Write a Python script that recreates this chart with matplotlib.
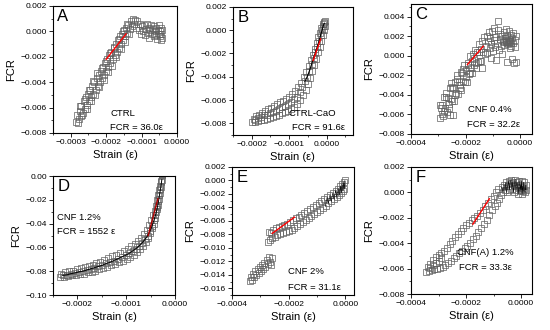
import numpy as np
import matplotlib
matplotlib.use("Agg")
import matplotlib.pyplot as plt
from matplotlib.ticker import MultipleLocator, AutoMinorLocator, FuncFormatter

plt.rcParams['font.family'] = ['Liberation Sans', 'DejaVu Sans']

# strain in units of 1e-4, FCR in units of 1e-3 (panel D: 1e-2)
A_x = [-2.85, -2.82, -2.78, -2.75, -2.72, -2.70, -2.66, -2.63, -2.60, -2.57,
       -2.54, -2.51, -2.48, -2.45, -2.42, -2.39, -2.36, -2.33, -2.30, -2.27,
       -2.24, -2.21, -2.18, -2.15, -2.12, -2.09, -2.06, -2.03, -2.00, -1.97,
       -1.94, -1.91, -1.88, -1.85, -1.82, -1.79, -1.76, -1.73, -1.70, -1.67,
       -1.64, -1.61, -1.58, -1.55, -1.52, -1.49, -1.46, -1.43, -1.40, -1.37,
       -1.34, -1.31, -1.28, -1.25,
       -2.80, -2.74, -2.68, -2.61, -2.55, -2.49, -2.43, -2.37, -2.31, -2.25,
       -2.19, -2.13, -2.07, -2.01, -1.95, -1.89, -1.83, -1.77, -1.71, -1.65,
       -1.59, -1.53, -1.47, -1.41, -1.35,
       -1.22, -1.18, -1.15, -1.12, -1.08, -1.05, -1.02, -0.98, -0.95, -0.92,
       -0.90, -0.87, -0.85, -0.82, -0.80, -0.78, -0.75, -0.73, -0.70, -0.68,
       -0.66, -0.64, -0.62, -0.60, -0.58, -0.56, -0.54, -0.52, -0.50, -0.48,
       -0.47, -0.46, -0.45, -0.44, -0.43, -0.42]
A_y = [-7.1, -6.6, -6.9, -6.3, -6.7, -5.9, -6.4, -5.5, -6.1, -5.2,
       -5.8, -4.9, -5.5, -4.6, -5.2, -4.3, -4.9, -4.0, -4.6, -3.7,
       -4.3, -3.4, -4.0, -3.1, -3.7, -2.8, -3.4, -2.5, -3.1, -2.2,
       -2.8, -1.9, -2.5, -1.6, -2.2, -1.3, -1.9, -1.0, -1.6, -0.7,
       -1.3, -0.4, -1.0, -0.2, -0.7, 0.1, -0.4, 0.3, -0.1, 0.5,
       0.2, 0.8, 0.4, 1.0,
       -7.2, -5.9, -6.6, -5.3, -6.1, -4.6, -5.5, -3.9, -5.0, -3.3,
       -4.4, -2.9, -3.8, -2.3, -3.2, -1.7, -2.7, -1.2, -2.0, -0.6,
       -1.4, 0.0, -0.8, 0.6, -0.2,
       0.6, 0.9, 0.3, 0.8, 0.1, 0.6, -0.2, 0.4, 0.0, 0.5,
       -0.3, 0.2, 0.6, -0.1, 0.3, -0.5, 0.1, 0.5, -0.2, 0.2,
       -0.4, 0.4, 0.0, -0.3, 0.3, -0.6, 0.1, -0.2, 0.5, -0.4,
       0.0, -0.7, 0.3, -0.2, -0.5, 0.1]
A_fit_x = [-2.0, -1.44]
A_fit_y = [-2.2, -0.2]

B_x = [-1.95, -1.88, -1.80, -1.72, -1.64, -1.56, -1.48, -1.40, -1.32, -1.24,
       -1.16, -1.08, -1.00, -0.92, -0.84, -0.76, -0.68, -0.60, -0.54, -0.48,
       -0.42, -0.37, -0.32, -0.27, -0.22, -0.18, -0.14, -0.10, -0.07, -0.04,
       -1.98, -1.90, -1.82, -1.74, -1.66, -1.58, -1.50, -1.42, -1.34, -1.26,
       -1.18, -1.10, -1.02, -0.94, -0.86, -0.78, -0.70, -0.63, -0.56, -0.50,
       -0.44, -0.38, -0.33, -0.28, -0.23, -0.19, -0.15, -0.11, -0.08, -0.05]
B_y = [-7.6, -7.4, -7.25, -7.1, -6.95, -6.8, -6.65, -6.5, -6.35, -6.2,
       -6.05, -5.9, -5.7, -5.5, -5.25, -4.9, -4.5, -4.0, -3.6, -3.1,
       -2.6, -2.1, -1.6, -1.1, -0.6, -0.2, 0.2, 0.5, 0.7, 0.8,
       -7.9, -7.85, -7.8, -7.75, -7.7, -7.62, -7.55, -7.45, -7.35, -7.25,
       -7.15, -7.05, -6.95, -6.8, -6.6, -6.35, -6.0, -5.6, -5.1, -4.6,
       -4.1, -3.5, -3.0, -2.5, -1.9, -1.4, -0.9, -0.4, 0.0, 0.4]
B_mid_x = [-1.92, -1.84, -1.76, -1.68, -1.60, -1.52, -1.44, -1.36, -1.28, -1.20,
           -1.12, -1.04, -0.96, -0.88, -0.80, -0.72, -0.65, -0.58, -0.52, -0.46,
           -0.40, -0.35, -0.30, -0.25, -0.20, -0.16, -0.12, -0.09, -0.06]
B_mid_y = [-7.7, -7.5, -7.45, -7.3, -7.25, -7.1, -7.0, -6.9, -6.8, -6.6,
           -6.5, -6.3, -6.2, -5.95, -5.7, -5.3, -4.9, -4.4, -4.0, -3.5,
           -2.9, -2.4, -1.9, -1.4, -0.9, -0.4, 0.0, 0.4, 0.6]
B_fit_x = [-0.36, -0.16]
B_fit_y = [-2.6, -0.75]

C_x = [-2.95, -2.92, -2.88, -2.85, -2.82, -2.78, -2.75, -2.72, -2.68, -2.65,
       -2.62, -2.58, -2.55, -2.52, -2.48, -2.45, -2.42, -2.38, -2.35, -2.32,
       -2.28, -2.25, -2.22, -2.18, -2.15, -2.12, -2.08, -2.05, -2.02, -1.98,
       -1.95, -1.92, -1.88, -1.85, -1.82, -1.78, -1.75, -1.72, -1.68, -1.65,
       -1.62, -1.58, -1.55, -1.52, -1.48, -1.45, -1.42, -1.38, -1.35, -1.32,
       -2.90, -2.80, -2.70, -2.60, -2.50, -2.40, -2.30, -2.20, -2.10, -2.00,
       -1.90, -1.80, -1.70, -1.60, -1.50, -1.40, -1.30, -2.58, -2.45,
       -1.25, -1.22, -1.20, -1.17, -1.15, -1.12, -1.10, -1.07, -1.05, -1.02,
       -1.00, -0.97, -0.95, -0.92, -0.90, -0.87, -0.85, -0.82, -0.80, -0.78,
       -0.75, -0.72, -0.70, -0.67, -0.65, -0.62, -0.60, -0.58, -0.55, -0.52,
       -0.50, -0.48, -0.46, -0.44, -0.42, -0.40, -0.38, -0.36, -0.34, -0.32,
       -0.30, -0.28, -0.26, -0.24, -0.22, -0.20, -0.18, -0.16, -0.15,
       -0.57, -0.53, -0.49, -0.45, -0.41, -0.37, -0.33]
C_y = [-6.4, -5.0, -6.0, -5.0, -6.2, -4.2, -5.3, -3.8, -5.8, -4.3,
       -5.3, -3.3, -4.4, -2.8, -4.6, -3.3, -4.6, -2.7, -3.8, -2.0,
       -3.9, -2.7, -3.3, -1.7, -3.5, -1.8, -2.6, -0.9, -2.7, -1.5,
       -2.7, -0.7, -1.9, 0.0, -1.8, -0.5, -1.8, 0.2, -0.9, 0.6,
       -1.2, 0.4, -0.6, 1.2, -0.5, 0.7, -0.5, 1.5, 0.4, 1.9,
       -5.3, -5.6, -4.2, -4.9, -3.2, -4.0, -2.4, -3.0, -1.4, -2.2,
       -0.9, -1.3, -0.2, -0.7, 0.4, -1.3, 0.2, -6.05, -6.1,
       1.0, 2.0, 0.3, 1.5, 2.4, 0.8, 1.8, -0.2, 1.2, 2.5,
       0.5, 1.6, 2.8, 0.9, 1.9, -0.4, 1.3, 2.6, 3.6, 0.6,
       1.7, 2.2, 1.0, 2.0, 0.2, 1.5, 2.4, 1.1, 1.8, 2.7,
       1.4, -0.6, 2.0, 1.2, 1.7, 2.5, 0.8, 1.5, 2.1, 1.0,
       1.8, -0.3, 1.3, 2.3, -0.7, 0.9, 1.6, -0.6, 2.0,
       1.4, 1.6, 1.3, 1.5, 1.4, 1.6, 1.3]
C_fit_x = [-1.93, -1.35]
C_fit_y = [-0.9, 0.97]

D_x = [-2.33, -2.25, -2.17, -2.09, -2.01, -1.93, -1.85, -1.77, -1.69, -1.61,
       -1.53, -1.45, -1.37, -1.29, -1.21, -1.13, -1.05, -0.97, -0.90, -0.83,
       -0.76, -0.70, -0.64, -0.58, -0.53, -0.49, -0.45, -0.42, -0.39, -0.36,
       -0.34, -0.32, -0.30, -0.28, -0.27,
       -2.35, -2.27, -2.19, -2.11, -2.03, -1.95, -1.87, -1.79, -1.71, -1.63,
       -1.55, -1.47, -1.39, -1.31, -1.23, -1.15, -1.07, -0.99, -0.92, -0.85,
       -0.78, -0.72, -0.66, -0.60, -0.55, -0.51, -0.47, -0.44, -0.41, -0.38,
       -0.36, -0.34, -0.32, -0.30, -0.28, -0.26]
D_y = [-8.2, -8.1, -8.0, -7.95, -7.85, -7.75, -7.65, -7.55, -7.45, -7.3,
       -7.2, -7.05, -6.9, -6.75, -6.6, -6.45, -6.3, -6.1, -5.9, -5.7,
       -5.45, -5.2, -4.9, -4.5, -4.1, -3.7, -3.3, -2.9, -2.5, -2.0,
       -1.6, -1.2, -0.8, -0.4, 0.1,
       -8.5, -8.45, -8.4, -8.35, -8.3, -8.25, -8.2, -8.1, -8.05, -7.95,
       -7.85, -7.75, -7.65, -7.5, -7.4, -7.25, -7.1, -6.95, -6.8, -6.6,
       -6.4, -6.15, -5.9, -5.55, -5.2, -4.8, -4.4, -4.0, -3.5, -3.0,
       -2.6, -2.1, -1.6, -1.1, -0.5, 0.2]
D_mid_x = [-2.30, -2.21, -2.13, -2.05, -1.97, -1.89, -1.81, -1.73, -1.65, -1.57,
           -1.49, -1.41, -1.33, -1.25, -1.17, -1.09, -1.01, -0.94, -0.87, -0.80,
           -0.73, -0.67, -0.61, -0.56, -0.51, -0.47, -0.43, -0.40, -0.37, -0.35,
           -0.33, -0.31, -0.29, -0.27]
D_mid_y = [-8.35, -8.3, -8.2, -8.15, -8.05, -8.0, -7.9, -7.8, -7.7, -7.6,
           -7.5, -7.35, -7.25, -7.1, -6.95, -6.8, -6.65, -6.5, -6.3, -6.1,
           -5.85, -5.6, -5.3, -5.0, -4.6, -4.2, -3.7, -3.3, -2.8, -2.4,
           -1.9, -1.4, -0.9, -0.3]
D_fit_x = [-0.55, -0.35]
D_fit_y = [-5.0, -1.9]

E_x = [-3.38, -3.34, -3.30, -3.26, -3.22, -3.18, -3.14, -3.10, -3.06, -3.02,
       -2.98, -2.94, -2.90, -2.86, -2.82, -2.78, -2.74, -2.70, -2.66, -2.62, -2.60,
       -2.74, -2.70, -2.66, -2.62, -2.58, -2.54, -2.50, -2.45, -2.40, -2.35,
       -2.30, -2.25, -2.20, -2.15, -2.10, -2.05, -2.00, -1.95, -1.90, -1.85,
       -1.80, -1.75, -1.70, -1.65, -1.60, -1.55, -1.50, -1.45, -1.40, -1.35,
       -1.30, -1.25, -1.20, -1.15, -1.10, -1.05, -1.00, -0.95, -0.90, -0.85,
       -0.80, -0.75, -0.70, -0.65, -0.60, -0.55, -0.50, -0.45, -0.40, -0.35,
       -0.30, -0.26, -0.22, -0.18, -0.15, -0.12, -0.09, -0.06, -0.04, -0.02]
E_y = [-14.9, -14.4, -14.8, -13.9, -14.3, -13.5, -14.0, -13.2, -13.7, -12.9,
       -13.4, -12.6, -13.1, -12.3, -12.9, -11.8, -12.4, -11.3, -12.1, -12.6, -11.5,
       -9.2, -7.6, -8.8, -7.8, -8.6, -7.3, -8.4, -7.1, -8.1, -6.9,
       -8.0, -6.8, -7.8, -6.6, -7.6, -6.4, -7.5, -6.1, -7.3, -5.9,
       -7.0, -5.6, -6.8, -5.4, -6.5, -5.1, -6.2, -4.9, -5.8, -4.6,
       -5.6, -4.2, -5.3, -3.9, -5.0, -3.7, -4.7, -3.3, -4.4, -3.1,
       -4.1, -2.8, -3.8, -2.5, -3.4, -2.2, -3.1, -1.9, -2.8, -1.5,
       -2.5, -1.2, -2.2, -0.8, -1.9, -0.5, -1.6, -0.2, -1.3, 0.0]
E_fit_x = [-2.58, -1.80]
E_fit_y = [-7.85, -5.45]

F_x = [-3.45, -3.35, -3.25, -3.15, -3.05, -2.95, -2.85, -2.75, -2.65, -2.55,
       -2.45, -2.35, -2.25, -2.15, -2.05, -1.95, -1.85, -1.75, -1.65, -1.55,
       -1.45, -1.35, -1.25, -1.15, -1.05, -0.95, -0.87, -0.79, -0.72,
       -3.40, -3.30, -3.20, -3.10, -3.00, -2.90, -2.80, -2.70, -2.60, -2.50,
       -2.40, -2.30, -2.20, -2.10, -2.00, -1.90, -1.80, -1.70, -1.60, -1.50,
       -1.40, -1.30, -1.20, -1.10, -1.00, -0.92, -0.85,
       -3.30, -3.20, -3.10, -3.00, -2.90]
F_y = [-6.3, -6.2, -6.1, -6.05, -6.0, -5.95, -5.85, -5.7, -5.55, -5.4,
       -5.2, -5.0, -4.8, -4.6, -4.4, -4.2, -4.0, -3.7, -3.4, -3.1,
       -2.8, -2.5, -2.2, -1.8, -1.4, -1.1, -0.8, -0.5, -0.2,
       -5.9, -5.6, -5.35, -5.1, -4.9, -4.75, -4.6, -4.4, -4.1, -3.8,
       -3.5, -3.25, -3.0, -2.8, -2.6, -2.4, -2.2, -2.0, -1.85, -1.65,
       -1.4, -1.1, -0.8, -0.55, -0.3, 0.0, 0.3,
       -5.95, -5.75, -5.55, -5.4, -5.2]
# top cluster of panel F
F_top_x = [-0.70, -0.65, -0.62, -0.58, -0.55, -0.52, -0.48, -0.45, -0.42, -0.40,
           -0.36, -0.33, -0.30, -0.27, -0.24, -0.21, -0.18, -0.15, -0.12, -0.10,
           -0.07, -0.04, -0.02, 0.00, 0.02, 0.04, 0.06, 0.08, 0.10, 0.12,
           0.15, 0.17, 0.18]
F_top_y = [0.4, 0.0, 0.6, 0.2, 0.8, 0.0, 0.5, 0.9, 0.2, 0.7,
           1.0, 0.3, 0.8, 0.0, 0.6, 1.0, 0.2, 0.8, 0.4, -0.1,
           0.9, 0.1, 0.6, 0.2, 0.9, -0.1, 0.5, 0.1, 0.8, 0.3,
           0.0, 0.6, 0.2]
F_fit_x = [-1.75, -1.15]
F_fit_y = [-2.5, -0.5]

rotulos = ['A', 'B', 'C', 'D', 'E', 'F']
amostras = ['CTRL', 'CTRL-CaO', 'CNF 0.4%', 'CNF 1.2%', 'CNF 2%', 'CNF(A) 1.2%']
equacoes = ['FCR = 36.0ε', 'FCR = 91.6ε', 'FCR = 32.2ε', 'FCR = 1552 ε',
            'FCR = 31.1ε', 'FCR = 33.3ε']

cinza = '#606060'


def fmt(casas):
    def f(v, pos):
        s = ('%.' + str(casas) + 'f') % v
        if float(s) == 0:
            s = s.lstrip('-')
        return s.replace('-', '\u2212')
    return FuncFormatter(f)


def painel(ax, xs, ys, xe=1e-4, ye=1e-3):
    ax.plot(np.array(xs) * xe, np.array(ys) * ye, 's', ms=4.6, mfc='none',
            mec=cinza, mew=0.5, zorder=2)


def estilo(ax, xlim, ylim, xstep, ystep, xcasas, ycasas):
    ax.set_xlim(*xlim)
    ax.set_ylim(*ylim)
    ax.xaxis.set_major_locator(MultipleLocator(xstep))
    ax.yaxis.set_major_locator(MultipleLocator(ystep))
    ax.xaxis.set_minor_locator(AutoMinorLocator(2))
    ax.yaxis.set_minor_locator(AutoMinorLocator(2))
    ax.xaxis.set_major_formatter(fmt(xcasas))
    ax.yaxis.set_major_formatter(fmt(ycasas))
    ax.tick_params(which='major', direction='out', length=3, width=0.6,
                   labelsize=6, pad=1.5)
    ax.tick_params(which='minor', direction='out', length=1.6, width=0.5)
    for s in ax.spines.values():
        s.set_linewidth(0.8)
    ax.set_xlabel('Strain (ε)', fontsize=8, labelpad=3)
    ax.set_ylabel('FCR', fontsize=8, labelpad=3)


fig = plt.figure(figsize=(5.5, 3.3), dpi=100)
axA = fig.add_axes([0.0964, 0.597, 0.2255, 0.385])
axB = fig.add_axes([0.4236, 0.591, 0.218, 0.388])
axC = fig.add_axes([0.7473, 0.594, 0.22, 0.394])
axD = fig.add_axes([0.0964, 0.106, 0.2218, 0.3606])
axE = fig.add_axes([0.4218, 0.106, 0.2218, 0.388])
axF = fig.add_axes([0.7473, 0.109, 0.22, 0.385])
eixos = [axA, axB, axC, axD, axE, axF]

# A
painel(axA, A_x, A_y)
axA.plot(np.array(A_fit_x) * 1e-4, np.array(A_fit_y) * 1e-3, color='red', lw=1, zorder=3)
estilo(axA, (-0.00035, 0.0), (-0.008, 0.002), 0.0001, 0.002, 4, 3)

# B
painel(axB, B_x, B_y)
painel(axB, B_mid_x, B_mid_y)
axB.plot(np.array(B_mid_x[17:]) * 1e-4, np.array(B_mid_y[17:]) * 1e-3, color='black', lw=0.8, zorder=3)
axB.plot(np.array(B_fit_x) * 1e-4, np.array(B_fit_y) * 1e-3, color='red', lw=1, zorder=4)
estilo(axB, (-0.00025, 0.00007), (-0.009, 0.002), 0.0001, 0.002, 4, 3)

# C
painel(axC, C_x, C_y)
axC.plot(np.array(C_fit_x) * 1e-4, np.array(C_fit_y) * 1e-3, color='red', lw=1, zorder=3)
estilo(axC, (-0.0004, 0.000044), (-0.008, 0.0053), 0.0002, 0.002, 4, 3)

# D
painel(axD, D_x, D_y, ye=1e-2)
painel(axD, D_mid_x, D_mid_y, ye=1e-2)
axD.plot(np.array(D_mid_x) * 1e-4, np.array(D_mid_y) * 1e-2, color='black', lw=0.7, zorder=3)
axD.plot(np.array(D_fit_x) * 1e-4, np.array(D_fit_y) * 1e-2, color='#b00000', lw=1, zorder=4)
estilo(axD, (-0.00025, 0.0), (-0.10, 0.0), 0.0001, 0.02, 4, 2)

# E
painel(axE, E_x, E_y)
axE.plot(np.array(E_x[-18:]) * 1e-4, np.array(E_y[-18:]) * 1e-3, color='black', lw=0.4, zorder=3)
axE.plot(np.array(E_fit_x) * 1e-4, np.array(E_fit_y) * 1e-3, color='red', lw=1, zorder=4)
estilo(axE, (-0.0004, 0.00003), (-0.017, 0.002), 0.0002, 0.002, 4, 3)

# F
painel(axF, F_x, F_y)
painel(axF, F_top_x, F_top_y)
axF.plot(np.array(F_top_x) * 1e-4, np.array(F_top_y) * 1e-3, color='black', lw=0.4, zorder=3)
axF.plot(np.array(F_fit_x) * 1e-4, np.array(F_fit_y) * 1e-3, color='red', lw=1, zorder=4)
estilo(axF, (-0.0004, 0.00004), (-0.008, 0.002), 0.0002, 0.002, 4, 3)

# textos
pos_amostra = [(0.46, 0.157), (0.46, 0.17), (0.47, 0.185), (0.03, 0.65), (0.46, 0.18), (0.38, 0.33)]
pos_equacao = [(0.46, 0.047), (0.49, 0.06), (0.46, 0.07), (0.03, 0.53), (0.46, 0.06), (0.40, 0.21)]
for ax, r, a, e, pa, pe in zip(eixos, rotulos, amostras, equacoes, pos_amostra, pos_equacao):
    ax.text(0.035, 0.975, r, transform=ax.transAxes, fontsize=12, va='top', ha='left')
    ax.text(pa[0], pa[1], a, transform=ax.transAxes, fontsize=6.8, va='center', ha='left')
    ax.text(pe[0], pe[1], e, transform=ax.transAxes, fontsize=6.8, va='center', ha='left')

fig.savefig('out.png', dpi=100)
